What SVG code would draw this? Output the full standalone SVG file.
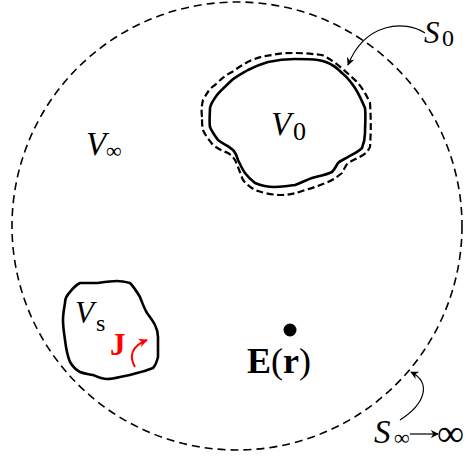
<svg xmlns="http://www.w3.org/2000/svg" width="471" height="457" viewBox="0 0 471 457">
<style>
text{font-family:"Liberation Serif","DejaVu Serif",serif;fill:#000}
.it{font-style:italic}
.inf{font-family:"DejaVu Sans","Liberation Serif",sans-serif;font-weight:200}
.dash{fill:none;stroke:#000;stroke-width:1.6;stroke-dasharray:8 5}
.dash2{fill:none;stroke:#000;stroke-width:2.2;stroke-dasharray:7 3.5}
.solid{fill:none;stroke:#000;stroke-width:2.6;stroke-linejoin:round}
.thin{fill:none;stroke:#000;stroke-width:1.2}
</style>
<defs>
<marker id="ah" viewBox="0 0 10 10" refX="9" refY="5" markerWidth="8" markerHeight="8" markerUnits="userSpaceOnUse" orient="auto">
<path d="M0,0 L10,5 L0,10 L3,5 Z" fill="#000"/>
</marker>
<marker id="ahr" viewBox="0 0 10 10" refX="9" refY="5" markerWidth="9" markerHeight="9" markerUnits="userSpaceOnUse" orient="auto">
<path d="M0,0 L10,5 L0,10 L3,5 Z" fill="#f00"/>
</marker>
</defs>
<g id="Sinf">
<ellipse class="dash" cx="237" cy="226" rx="225" ry="224"/>
</g>
<g id="V0">
<path class="dash2" d="M202,117 C201,110 202,104 203,100 C207,93 210,88 215,85 C221,79 226,75 232,72 C239,67 245,63 252,60 C259,57 265,56 272,55 C280,53 288,53 295,53 C304,53 313,54 322,55 C328,58 333,61 338,65 C345,71 352,77 358,83 C363,89 367,96 370,103 C371,118 371,132 370,147 C368,151 366,153 363,155 C358,158 353,160 348,163 C345,166 344,170 342,173 C337,177 333,180 328,182 C320,185 313,188 305,190 C297,193 290,195 282,195 C273,195 263,193 255,190 C250,187 246,184 243,180 C240,173 238,166 235,160 C233,157 231,155 228,153 C223,151 218,149 213,145 C209,140 205,135 203,130 C202,126 202,121 202,117 Z"/>
<path class="solid" d="M210,108 C210,114 209,121 210,127 C212,132 215,136 218,140 C223,144 229,146 233,150 C236,153 237,157 238,160 C240,164 242,169 245,173 C248,177 251,180 255,183 C262,186 268,187 275,187 C282,187 288,186 295,185 C301,183 306,180 312,178 C319,176 326,175 332,172 C335,169 336,166 338,163 C341,160 345,159 348,157 C353,154 358,152 362,148 C364,143 365,138 365,133 C365,125 366,116 365,108 C362,101 359,94 355,88 C351,82 347,77 342,73 C339,70 336,67 332,65 C328,62 323,61 318,60 C310,59 303,59 295,59 C286,59 277,60 268,62 C261,64 254,67 248,70 C243,73 237,76 232,80 C227,85 221,90 217,95 C214,99 211,103 210,108 Z"/>
<text x="271" y="135" class="it" font-size="33">V</text>
<text x="293" y="140" font-size="26">0</text>
</g>
<g id="Vs">
<path class="solid" stroke-width="3" d="M70,292 C66,296 65,299 65,303 C64,309 63,314 63,320 C63,327 64,333 65,340 C66,348 67,355 70,362 C73,367 76,370 80,372 C84,374 89,374 93,375 C98,377 102,379 107,379 C112,379 116,378 120,377 C126,376 131,375 137,373 C142,372 148,370 153,368 C156,365 157,361 158,357 C158,350 158,344 158,337 C158,333 157,329 155,325 C153,321 150,317 147,313 C144,308 142,302 140,297 C137,292 134,287 130,283 C126,282 122,281 117,281 C110,281 104,282 97,283 C91,283 86,283 80,283 C76,285 73,288 70,292 Z"/>
<text x="75" y="323" class="it" font-size="31">V</text>
<text x="96" y="331" font-size="24">s</text>
<text x="110" y="355" font-size="31" font-weight="bold" style="fill:#f00">J</text>
<path d="M135,367 C129,357 131,346 147,340" fill="none" stroke="#f00" stroke-width="2" marker-end="url(#ahr)"/>
</g>
<g id="Vinf">
<text x="86" y="155" class="it" font-size="33">V</text>
<text x="106" y="158" font-size="22">∞</text>
</g>
<g id="E">
<circle cx="290" cy="330" r="6.5" fill="#000"/>
<text x="247" y="373" font-size="36"><tspan font-weight="bold">E</tspan>(<tspan font-weight="bold">r</tspan>)</text>
</g>
<g id="S0label">
<text x="424" y="43" class="it" font-size="31">S</text>
<text x="442" y="46" font-size="24">0</text>
</g>
<g id="Sinflabel">
<text x="374" y="443" class="it" font-size="33">S</text>
<text x="394" y="445" font-size="22">∞</text>
<text x="437" y="446" class="inf" font-size="38">∞</text>
</g>
<g id="connectors">
<path class="thin" d="M425,33 C405,20 365,22 348,65" marker-end="url(#ah)"/>
<path class="thin" d="M400,420 C425,404 432,383 411,372" marker-end="url(#ah)"/>
<path class="thin" stroke-width="1.6" d="M410,434 L438,434" marker-end="url(#ah)"/>
</g>
</svg>
